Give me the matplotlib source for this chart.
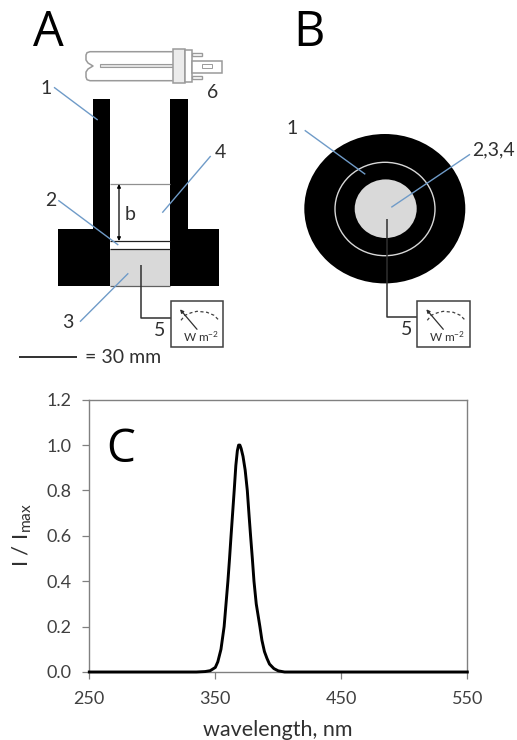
import matplotlib
matplotlib.use("Agg")
import matplotlib.pyplot as plt
from matplotlib.patches import Rectangle, Ellipse

# spectrum
wavelength = [250, 300, 335, 342, 346, 350, 352, 354.5, 357, 358.5, 360, 361.3, 362.5, 364, 365, 366.3, 367.5, 368.5, 369.5, 370.5,
              372, 373.7, 375.4, 376.8, 378, 379.4, 380.7, 382.5, 385.4, 387, 389, 391, 393, 396.5, 400, 405, 420, 480, 550]
intensity = [0, 0, 0, 0.002, 0.006, 0.02, 0.045, 0.10, 0.20, 0.30, 0.40, 0.50, 0.60, 0.72, 0.80, 0.91, 0.975, 1.0, 1.0, 0.985,
             0.95, 0.89, 0.80, 0.69, 0.60, 0.50, 0.40, 0.30, 0.20, 0.14, 0.09, 0.06, 0.035, 0.015, 0.005, 0, 0, 0, 0]
xticks = [250, 350, 450, 550]
yticks = [0.0, 0.2, 0.4, 0.6, 0.8, 1.0, 1.2]

W, H = 517, 740
plt.rcParams['font.family'] = ['Lato', 'DejaVu Sans']
plt.rcParams['mathtext.fontset'] = 'custom'
plt.rcParams['mathtext.rm'] = 'Lato'
plt.rcParams['mathtext.default'] = 'regular'
fig = plt.figure(figsize=(W/100, H/100), dpi=100)

# whole figure in pixel coords for the drawings
px = fig.add_axes([0, 0, 1, 1])
px.set_xlim(0, W)
px.set_ylim(H, 0)
px.axis('off')

blue = '#6f9bc8'
txt = '#303030'
gr = '#d9d9d9'
lc = '#9a9a9a'

def box(x0, y0, x1, y1, fc='k', ec='none', lw=0, z=2):
    px.add_patch(Rectangle((x0, y0), x1-x0, y1-y0, fc=fc, ec=ec, lw=lw, zorder=z))

def line(xs, ys, c='k', lw=1.0, z=3):
    px.plot(xs, ys, color=c, lw=lw, zorder=z, solid_capstyle='butt')

def label(x, y, s, size=14):
    px.text(x, y, s, fontsize=size, color=txt, ha='center', va='center', zorder=6)

def letter(x, y, s, size):
    px.text(x, y, s, fontsize=size, color='k', family='Open Sans', ha='center', va='center', zorder=6)

def meter(x0, y0, x1, y1):
    box(x0, y0, x1, y1, fc='white', ec='#404040', lw=1.1, z=4)
    px.plot([x0+10, x0+14, x0+20, x0+26, x0+36, x0+43, x0+48],
            [y0+19, y0+14, y0+11.5, y0+10, y0+11, y0+14, y0+19],
            color='#404040', lw=0.9, ls=(0, (2.5, 2)), zorder=5)
    px.annotate('', xy=(x0+9, y0+8), xytext=(x0+26, y0+28),
                arrowprops=dict(arrowstyle='-|>', color='#303030', lw=0.9, mutation_scale=5,
                                shrinkA=0, shrinkB=0), zorder=5)
    px.text(x0+30, y0+35, 'W m$^{-2}$', fontsize=8.5, color=txt, ha='center', va='center', zorder=5)

# panel A
letter(48.5, 33, 'A', 35)
box(92.7, 99.3, 110.3, 285.7)
box(170.3, 99.3, 188, 285.7)
box(57.7, 228.7, 110.3, 285.7)
box(170.3, 228.7, 219.3, 285.7)
box(110.3, 249.3, 170.3, 285.7, fc=gr)
line([110.3, 170.3], [184, 184], c='#909090', lw=0.9)
line([110.3, 170.3], [240.7, 240.7], c='#202020', lw=0.9)
line([110.3, 170.3], [249.3, 249.3], c='#202020', lw=0.9)
line([110.3, 170.3], [285.7, 285.7], c='#606060', lw=0.9)
px.annotate('', xy=(119, 184), xytext=(119, 241),
            arrowprops=dict(arrowstyle='<|-|>', color='k', lw=0.9, mutation_scale=5, shrinkA=0, shrinkB=0), zorder=5)
label(130, 214.5, 'b')
line([140.7, 140.7, 171], [265, 317.7, 317.7], c='#303030', lw=1.1)
meter(171, 301.3, 223.3, 346.7)
line([54, 97.7], [87.3, 120], c=blue)
line([58.3, 118.3], [200.3, 245], c=blue)
line([80, 128.3], [321.7, 273.3], c=blue)
line([210.7, 162.3], [156, 212.7], c=blue)
label(46.5, 88, '1')
label(50.5, 200, '2')
label(68, 322.5, '3')
label(220, 152.5, '4')
label(159.5, 331, '5')
label(212.5, 92.5, '6')
line([19.3, 77.3], [357.3, 357.3], c='#202020', lw=1.3)
px.text(85, 357.5, '= 30 mm', fontsize=14, color=txt, ha='left', va='center')

# lamp on top of A
line([172.7, 90, 87, 86, 86, 88, 93, 88, 86, 86, 87, 90, 172.7],
     [51.7, 51.7, 52.7, 55, 60, 63, 66, 69, 72, 77, 79.7, 80.7, 80.7], c=lc, lw=1.1)
box(100, 64, 172.7, 67.3, fc='#e4e4e4', ec=lc, lw=0.8)
box(172.7, 49.3, 185, 83.3, fc='#ececec', ec=lc, lw=1.1)
box(185, 50, 191.7, 81.7, fc='white', ec=lc, lw=1.1)
box(191.7, 60.7, 221.7, 73.3, fc='white', ec=lc, lw=1.1)
box(191.7, 52.7, 201.7, 56, fc='white', ec=lc, lw=1.0)
box(191.7, 75.5, 201.7, 79, fc='white', ec=lc, lw=1.0)
box(201.7, 64, 211.7, 68, fc='white', ec=lc, lw=0.7)

# panel B
letter(309, 33, 'B', 35)
px.add_patch(Ellipse((384.8, 208.7), 161, 149.4, fc='k', ec='none', zorder=2))
px.add_patch(Ellipse((385, 209), 100, 93.4, fc='none', ec='#d8d8d8', lw=1.0, zorder=3))
px.add_patch(Ellipse((385.7, 208.7), 62, 58.6, fc=gr, ec='none', zorder=3))
line([387, 387], [219.3, 283.4], c='#303030', lw=1.1, z=4)
line([387, 387, 417.3], [283.4, 317.3, 317.3], c='#303030', lw=1.1, z=4)
meter(417.3, 301.3, 470.3, 346.7)
line([304.7, 365.3], [130.3, 174.3], c=blue, z=5)
line([470, 391.3], [154.3, 207.3], c=blue, z=5)
label(292.5, 129, '1')
label(493.5, 150, '2,3,4')
label(407, 329.5, '5')

# panel C, the spectrum
left, right, top, bottom = 89.3, 467.3, 399.7, 672
ax = fig.add_axes([left/W, 1-bottom/H, (right-left)/W, (bottom-top)/H])
ax.patch.set_alpha(0)
ax.plot(wavelength, intensity, color='k', lw=2.1, clip_on=False, zorder=5)
ax.set_xlim(250, 550)
ax.set_ylim(0, 1.2)
ax.set_xticks(xticks)
ax.set_yticks(yticks)
ax.set_yticklabels(['%.1f' % v for v in yticks])
ax.tick_params(direction='out', length=5, width=0.9, color='#808080', labelcolor='#404040', labelsize=13, pad=8)
ax.tick_params(axis='x', pad=8.5)
for s in ax.spines.values():
    s.set_color('#808080')
    s.set_linewidth(1.0)
letter(121, 450, 'C', 33)
px.text(277.5, 730.5, 'wavelength, nm', fontsize=15.5, color=txt, ha='center', va='center')
px.text(22.5, 535, 'I / I$_{max}$', fontsize=16, color=txt, rotation=90, ha='center', va='center')

fig.savefig('out.png', dpi=100)
